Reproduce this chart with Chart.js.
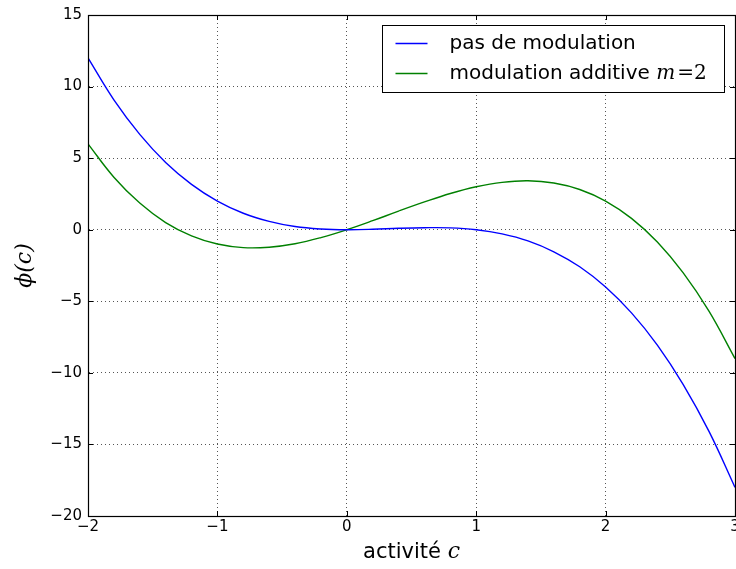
<!DOCTYPE html>
<html>
<head>
<meta charset="utf-8">
<script src="https://cdn.jsdelivr.net/npm/chart.js@4"></script>
<style>
  html, body { margin: 0; padding: 0; background: #fff; overflow: hidden; }
  #wrap { width: 760px; height: 569px; }
</style>
</head>
<body>
<div id="wrap"><canvas id="chart" width="760" height="569"></canvas></div>
<script>
// activité c
const cValues = [-2, -1.8, -1.6, -1.4, -1.2, -1, -0.8, -0.6, -0.4, -0.2, 0, 0.2, 0.4, 0.6, 0.8, 1, 1.2, 1.4, 1.6, 1.8, 2, 2.2, 2.4, 2.6, 2.8, 3];
// pas de modulation
const phiNone = [12, 9.07, 6.66, 4.70, 3.17, 2, 1.15, 0.58, 0.22, 0.05, 0, 0.03, 0.10, 0.14, 0.13, 0, -0.29, -0.78, -1.54, -2.59, -4, -5.81, -8.06, -10.82, -14.11, -18];
// modulation additive m=2
const phiAdd = [6, 3.67, 1.86, 0.50, -0.43, -1, -1.25, -1.22, -0.98, -0.55, 0, 0.63, 1.30, 1.94, 2.53, 3, 3.31, 3.42, 3.26, 2.81, 2, 0.79, -0.86, -3.02, -5.71, -9];

const xTicks = [-2, -1, 0, 1, 2, 3];
const yTicks = [-20, -15, -10, -5, 0, 5, 10, 15];

function fmt(v) {
    return v < 0 ? "\u2212" + Math.abs(v) : String(v);
}

function toPoints(xs, ys) {
    return xs.map((x, i) => ({x: x, y: ys[i]}));
}

// legend, axis titles, inner tick marks
const extras = {
    id: "extras",
    afterDraw(chart) {
        const ctx = chart.ctx;
        const a = chart.chartArea;
        const xs = chart.scales.x, ys = chart.scales.y;
        ctx.save();

        // inner ticks
        ctx.strokeStyle = "#000";
        ctx.lineWidth = 1;
        xTicks.forEach(t => {
            let px = Math.round(xs.getPixelForValue(t)) + 0.5;
            ctx.beginPath();
            ctx.moveTo(px, a.bottom); ctx.lineTo(px, a.bottom - 5);
            ctx.moveTo(px, a.top); ctx.lineTo(px, a.top + 5);
            ctx.stroke();
        });
        yTicks.forEach(t => {
            let py = Math.round(ys.getPixelForValue(t)) + 0.5;
            ctx.beginPath();
            ctx.moveTo(a.left, py); ctx.lineTo(a.left + 5, py);
            ctx.moveTo(a.right, py); ctx.lineTo(a.right - 5, py);
            ctx.stroke();
        });

        // x title
        ctx.fillStyle = "#000";
        ctx.textBaseline = "alphabetic";
        let t1 = "activité ";
        ctx.font = "21px 'DejaVu Sans'";
        let w1 = ctx.measureText(t1).width;
        ctx.font = "italic 22px 'DejaVu Serif'";
        let w2 = ctx.measureText("c").width;
        let x0 = (a.left + a.right) / 2 - (w1 + w2) / 2;
        ctx.textAlign = "left";
        ctx.font = "21px 'DejaVu Sans'";
        ctx.fillText(t1, x0, 558);
        ctx.font = "italic 22px 'DejaVu Serif'";
        ctx.fillText("c", x0 + w1, 558);

        // y title
        ctx.save();
        ctx.translate(31, (a.top + a.bottom) / 2);
        ctx.rotate(-Math.PI / 2);
        ctx.textAlign = "center";
        ctx.font = "italic 22px 'DejaVu Serif'";
        ctx.fillText("\u03d5(c)", 0, 0);
        ctx.restore();

        // legend box
        const bx = 382.5, by = 25.5, bw = 342, bh = 67;
        ctx.fillStyle = "#fff";
        ctx.fillRect(bx, by, bw, bh);
        ctx.strokeStyle = "#000";
        ctx.lineWidth = 1;
        ctx.strokeRect(bx, by, bw, bh);

        const rows = [
            {color: chart.data.datasets[0].borderColor, y: by + 18},
            {color: chart.data.datasets[1].borderColor, y: by + 48}
        ];
        rows.forEach(r => {
            ctx.strokeStyle = r.color;
            ctx.lineWidth = 1.5;
            ctx.beginPath();
            ctx.moveTo(bx + 13, r.y); ctx.lineTo(bx + 45, r.y);
            ctx.stroke();
        });
        ctx.fillStyle = "#000";
        ctx.textAlign = "left";
        ctx.textBaseline = "middle";
        ctx.font = "20px 'DejaVu Sans'";
        ctx.fillText("pas de modulation", bx + 67, rows[0].y);
        let t2 = "modulation additive ";
        ctx.fillText(t2, bx + 67, rows[1].y);
        let tw = ctx.measureText(t2).width;
        ctx.font = "italic 20px 'DejaVu Serif'";
        ctx.fillText("m", bx + 67 + tw, rows[1].y);
        let mw = ctx.measureText("m").width;
        ctx.font = "20px 'DejaVu Serif'";
        ctx.fillText("=2", bx + 67 + tw + mw + 2, rows[1].y);

        ctx.restore();
    }
};

new Chart(document.getElementById("chart"), {
    type: "line",
    data: {
        datasets: [
            {
                label: "pas de modulation",
                data: toPoints(cValues, phiNone),
                borderColor: "#0000ff",
                borderWidth: 1.4,
                pointRadius: 0,
                tension: 0.4,
                fill: false
            },
            {
                label: "modulation additive m=2",
                data: toPoints(cValues, phiAdd),
                borderColor: "#008000",
                borderWidth: 1.4,
                pointRadius: 0,
                tension: 0.4,
                fill: false
            }
        ]
    },
    options: {
        responsive: false,
        animation: false,
        layout: {padding: {left: 0, top: 15, right: 25, bottom: 0}},
        plugins: {
            legend: {display: false},
            tooltip: {enabled: false}
        },
        scales: {
            x: {
                type: "linear",
                min: -2, max: 3,
                afterFit: s => { s.height = 53; },
                afterBuildTicks: s => { s.ticks = xTicks.map(v => ({value: v})); },
                ticks: {
                    color: "#000",
                    font: {family: "DejaVu Sans", size: 15},
                    padding: 2,
                    maxRotation: 0,
                    callback: v => fmt(v)
                },
                grid: {
                    color: "#555",
                    lineWidth: 1,
                    drawTicks: false
                },
                border: {color: "#000", width: 1, dash: [1, 3]}
            },
            y: {
                type: "linear",
                min: -20, max: 15,
                afterFit: s => { s.width = 88; },
                afterBuildTicks: s => { s.ticks = yTicks.map(v => ({value: v})); },
                ticks: {
                    color: "#000",
                    font: {family: "DejaVu Sans", size: 15},
                    padding: 6,
                    callback: v => fmt(v)
                },
                grid: {
                    color: "#555",
                    lineWidth: 1,
                    drawTicks: false
                },
                border: {color: "#000", width: 1, dash: [1, 3]}
            }
        }
    },
    plugins: [extras, {
        id: "frame",
        afterDraw(chart) {
            const a = chart.chartArea, ctx = chart.ctx;
            ctx.save();
            ctx.strokeStyle = "#000";
            ctx.lineWidth = 1.2;
            ctx.strokeRect(Math.round(a.left) + 0.5, Math.round(a.top) + 0.5, Math.round(a.right - a.left), Math.round(a.bottom - a.top));
            ctx.restore();
        }
    }]
});
</script>
</body>
</html>
